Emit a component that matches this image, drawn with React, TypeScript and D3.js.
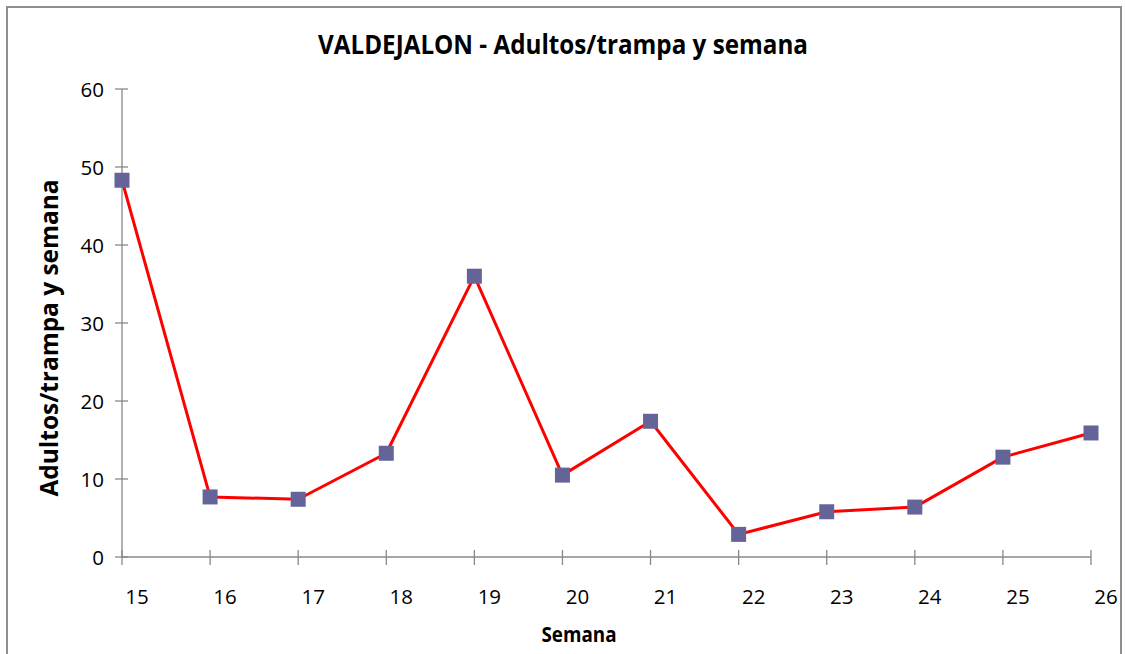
import React from "react";
import * as d3 from "d3";

const weeks: number[] = [15, 16, 17, 18, 19, 20, 21, 22, 23, 24, 25, 26];
const adults: number[] = [48.3, 7.7, 7.4, 13.3, 36.0, 10.5, 17.4, 2.9, 5.8, 6.4, 12.8, 15.9];
const yTicks: number[] = [0, 10, 20, 30, 40, 50, 60];

const W = 1125;
const H = 654;
const FONT = "'Open Sans', 'DejaVu Sans', sans-serif";

export default function App() {
  const x = d3.scaleLinear().domain([15, 26]).range([122, 1091]);
  const y = d3.scaleLinear().domain([0, 60]).range([557, 89]);
  const line = d3
    .line<number>()
    .x((_, i) => x(weeks[i]))
    .y((d) => y(d));
  const axisColor = "#888888";
  return (
    <svg
      width={W}
      height={H}
      style={{ position: "absolute", left: 0, top: 0, background: "#fff" }}
      fontFamily={FONT}
    >
      <rect x={0} y={0} width={W} height={H} fill="#fff" />
      <rect x={7} y={7} width={1114} height={H + 10} fill="none" stroke="#8f8f8f" strokeWidth={2} />
      <text
        x={563}
        y={54}
        textAnchor="middle"
        fontSize={26}
        fontWeight="bold"
        textLength={490}
        lengthAdjust="spacingAndGlyphs"
        fill="#000"
      >
        VALDEJALON - Adultos/trampa y semana
      </text>
      {/* y axis */}
      <line x1={x(15)} x2={x(15)} y1={y(60)} y2={y(0)} stroke={axisColor} strokeWidth={1.3} />
      {yTicks.map((t) => (
        <g key={t}>
          <line x1={x(15) - 7} x2={x(15) + 6} y1={y(t)} y2={y(t)} stroke={axisColor} strokeWidth={1.3} />
          <text x={104} y={y(t) + 8} textAnchor="end" fontSize={20.5} fill="#000">
            {t}
          </text>
        </g>
      ))}
      {/* x axis */}
      <line x1={x(15)} x2={x(26)} y1={y(0)} y2={y(0)} stroke={axisColor} strokeWidth={1.3} />
      {weeks.map((w) => (
        <g key={w}>
          <line x1={x(w)} x2={x(w)} y1={y(0) - 7} y2={y(0) + 8} stroke={axisColor} strokeWidth={1.3} />
          <text x={x(w) + 15} y={604} textAnchor="middle" fontSize={20.5} fill="#000">
            {w}
          </text>
        </g>
      ))}
      <text
        x={579}
        y={642}
        textAnchor="middle"
        fontSize={21}
        fontWeight="bold"
        textLength={75}
        lengthAdjust="spacingAndGlyphs"
        fill="#000"
      >
        Semana
      </text>
      <text
        transform={`translate(58,338) rotate(-90)`}
        textAnchor="middle"
        fontSize={25}
        fontWeight="bold"
        textLength={317}
        lengthAdjust="spacingAndGlyphs"
        fill="#000"
      >
        Adultos/trampa y semana
      </text>
      <path d={line(adults) || ""} fill="none" stroke="#ff0000" strokeWidth={3} strokeLinejoin="round" />
      {adults.map((v, i) => (
        <rect
          key={i}
          x={x(weeks[i]) - 7.5}
          y={y(v) - 7.5}
          width={15}
          height={15}
          fill="#646498"
        />
      ))}
    </svg>
  );
}
